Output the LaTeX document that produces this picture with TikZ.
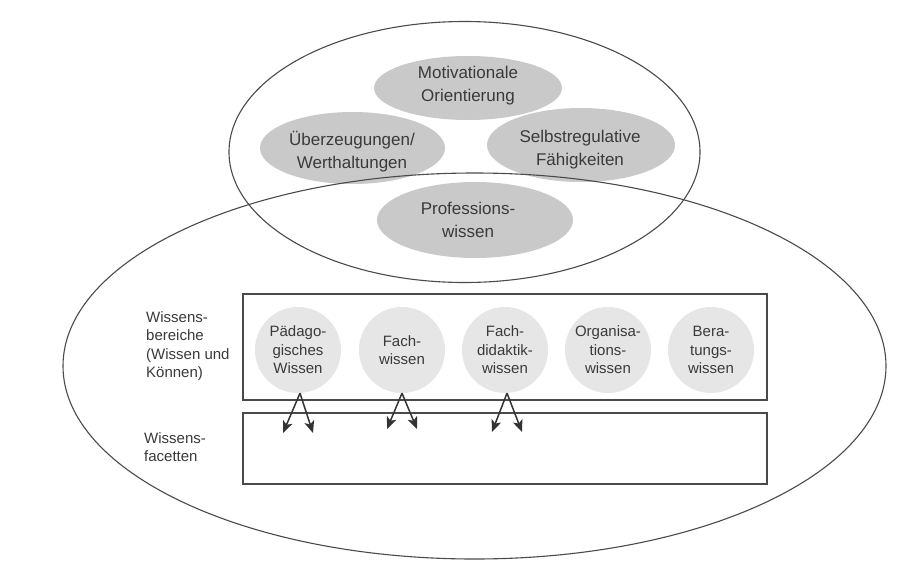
\documentclass[tikz,border=0pt]{standalone}
\usepackage{fontspec}
\setmainfont{Liberation Sans}
\usetikzlibrary{shapes.geometric,arrows.meta}
\definecolor{ellfill}{HTML}{C9C9C9}
\definecolor{circfill}{HTML}{E6E6E6}
\definecolor{linec}{HTML}{4A4A4A}
\definecolor{txt}{HTML}{3A3A3A}
\begin{document}
\begin{tikzpicture}[x=1pt,y=-1pt,
  greyell/.style={ellipse, fill=ellfill, inner sep=0pt, text=txt, align=center,
    font=\fontsize{16.5}{22.5}\selectfont},
  bigtext/.style={text=txt, align=center, font=\fontsize{17}{23}\selectfont},
  kreis/.style={circle, fill=circfill, minimum size=86pt, inner sep=0pt, text=txt,
    align=center, font=\fontsize{15}{18.5}\selectfont},
  outline/.style={ellipse, draw=linec, line width=1.1pt, inner sep=0pt},
  frame/.style={rectangle, draw=linec, line width=1.4pt, inner sep=0pt},
  lbl/.style={text=txt, align=left, font=\fontsize{15}{18.5}\selectfont,
    anchor=base west, inner sep=0pt},
  arr/.style={draw=black!80, line width=1.5pt, -{Stealth[length=12pt,width=10pt,inset=3pt]}}
]
\useasboundingbox (0,0) rectangle (918,560);
\fill[white] (0,0) rectangle (918,560);

% grey ellipses (upper group)
\node[greyell, minimum width=185pt, minimum height=72pt] (ueb) at (352.5,148) {};
\node[greyell, minimum width=188pt, minimum height=74pt] (selbst) at (581,145) {};
\node[greyell, minimum width=196pt, minimum height=76pt] (prof) at (475,220) {};
\node[greyell, minimum width=188pt, minimum height=64pt] (motiv) at (468,88) {};

% light circles (Wissensbereiche)
\node[kreis] (paed) at (298,350) {};
\node[kreis] (fach) at (402,350) {};
\node[kreis] (fdid) at (505,350) {};
\node[kreis] (orga) at (608,350) {};
\node[kreis] (bera) at (711,350) {};

% frames
\node[frame, minimum width=524pt, minimum height=106pt] (bereiche) at (505,347) {};
\node[frame, minimum width=524pt, minimum height=71pt] (facetten) at (505,448.5) {};

% big outlines
\node[outline, minimum width=471pt, minimum height=261pt] (oben) at (464.5,152) {};
\node[outline, minimum width=823pt, minimum height=386pt] (gross) at (474.5,366) {};

% texts
\node[bigtext] (tmotiv) at (468,86) {Motivationale\\Orientierung};
\node[bigtext] (tueb) at (352,152) {Überzeugungen/\\Werthaltungen};
\node[bigtext] (tselbst) at (580,150) {Selbstregulative\\Fähigkeiten};
\node[bigtext] (tprof) at (468,220) {Professions-\\wissen};

\node[kreis, fill=none] (tpaed) at (paed.center) {Pädago-\\gisches\\Wissen};
\node[kreis, fill=none] (tfach) at (fach.center) {Fach-\\wissen};
\node[kreis, fill=none] (tfdid) at (fdid.center) {Fach-\\didaktik-\\wissen};
\node[kreis, fill=none] (torga) at (orga.center) {Organisa-\\tions-\\wissen};
\node[kreis, fill=none] (tbera) at (bera.center) {Bera-\\tungs-\\wissen};

\node[lbl] (lb1) at (146,377.5) {Wissens-\\bereiche\\(Wissen und\\Können)};
\node[lbl] (lb2) at (144,461.5) {Wissens-\\facetten};

% arrows
\coordinate (a1l) at (283,433);
\coordinate (a1r) at (313,433);
\coordinate (a2l) at (387,429);
\coordinate (a2r) at (417,429);
\coordinate (a3l) at (492,432);
\coordinate (a3r) at (522,432);
\draw[arr] ([xshift=2pt]paed.south) -- (a1l);
\draw[arr] ([xshift=2pt]paed.south) -- (a1r);
\draw[arr] ([xshift=0pt]fach.south) -- (a2l);
\draw[arr] ([xshift=0pt]fach.south) -- (a2r);
\draw[arr] ([xshift=2pt]fdid.south) -- (a3l);
\draw[arr] ([xshift=2pt]fdid.south) -- (a3r);
\end{tikzpicture}
\end{document}
